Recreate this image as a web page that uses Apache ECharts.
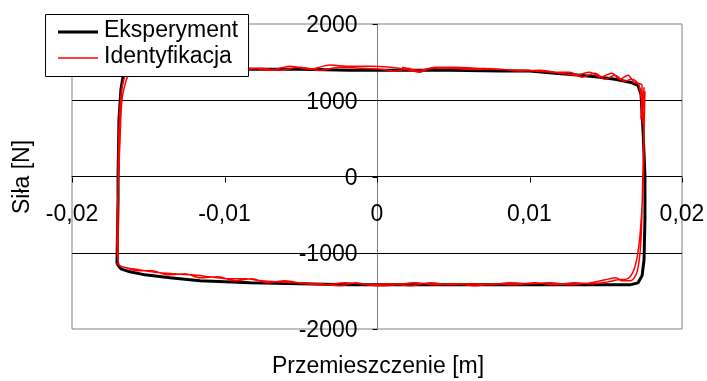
<!DOCTYPE html>
<html>
<head>
<meta charset="utf-8">
<script src="https://cdn.jsdelivr.net/npm/echarts@6/dist/echarts.min.js"></script>
<style>
html,body{margin:0;padding:0;background:#fff;}
#c{width:707px;height:381px;}
</style>
</head>
<body>
<div id="c"></div>
<script>
// Tick values and labels
var xTicks = [-0.02, -0.01, 0, 0.01, 0.02];
var xTickLabels = ['-0,02', '-0,01', '0', '0,01', '0,02'];
var yTicks = [-2000, -1000, 0, 1000, 2000];
var yTickLabels = ['-2000', '-1000', '0', '1000', '2000'];
var seriesNames = ['Eksperyment', 'Identyfikacja'];
var xTitle = 'Przemieszczenie [m]';
var yTitle = 'Siła [N]';

// Eksperyment (black) - displacement [m] and force [N]
var expX = [-0.01705,-0.01698,-0.01698,-0.01692,-0.01679,-0.01666,-0.0164,-0.01587,-0.01423,-0.01161,-0.00833,-0.00505,-0.00177,0.00151,0.00479,0.00807,0.01003,0.01167,0.01331,0.01462,0.01561,0.01659,0.01711,0.01731,0.01744,0.01757,0.01757,0.01751,0.01738,0.01711,0.01659,0.01462,0.01134,0.00807,0.00479,0.00151,-0.00177,-0.00505,-0.00833,-0.01161,-0.01357,-0.01521,-0.0162,-0.01679,-0.01705];
var expY = [-1145,-303,0,750,1145,1303,1382,1408,1408,1408,1408,1408,1395,1395,1395,1382,1382,1355,1329,1303,1276,1237,1197,1079,618,26,-566,-1092,-1303,-1395,-1421,-1421,-1421,-1421,-1421,-1421,-1421,-1408,-1395,-1368,-1329,-1290,-1250,-1211,-1145];

// Identyfikacja (red) - two cycles
var idX = [0.00164,0.00282,0.0038,0.00511,0.00643,0.00807,0.00938,0.01069,0.0120,0.01298,0.01397,0.01462,0.0154,0.01593,0.01646,0.01685,0.01711,
0.01738,0.01731,0.01751,0.01744,0.01757,0.01751,0.01744,0.01738,0.01731,0.01718,0.01698,0.01659,0.01607,0.01567,0.01495,0.01397,0.01266,0.01134,0.01003,0.00872,0.00741,0.0061,0.00479,0.00348,0.00216,0.00085,-0.00046,-0.00144,-0.00243,-0.00374,-0.00505,-0.00636,-0.00754,-0.00866,-0.00977,-0.01095,-0.01213,-0.01325,-0.01423,-0.01521,-0.01607,-0.01672,-0.01698,
-0.01698,-0.01698,-0.01692,-0.01679,-0.0166,-0.01633,-0.01593,-0.01489,-0.01357,-0.01226,-0.01095,-0.00964,-0.00833,-0.00702,-0.0057,-0.00439,-0.00308,-0.00177,-0.00046,0.00085,0.00184,
0.00282,0.00361,0.00479,0.0061,0.00774,0.00905,0.01036,0.01167,0.01266,0.01344,0.01429,0.01495,0.01561,0.0162,0.01672,0.01718,0.01744,0.01731,0.01751,0.01744,0.01725,0.01705,0.01679,0.0164,0.0158,0.01515,0.01397,0.01298,0.01167,0.01036,0.00905,0.00774,0.00643,0.00511,0.0038,0.00249,0.00118,0.00007,-0.00111,-0.0021,-0.00341,-0.00472,-0.00603,-0.00715,-0.0082,-0.00931,-0.01043,-0.0116,-0.01259,-0.0137,-0.01475,-0.01567,-0.01646,-0.01692,
-0.01705,-0.01698,-0.01685,-0.01672,-0.01646,-0.0162,-0.01567,-0.01423,-0.01292,-0.01161,-0.0103,-0.00898,-0.00767,-0.00636,-0.00505,-0.00374,-0.00243,-0.00111,0.0002,0.00118,0.00216];
var idY = [1434,1395,1434,1434,1421,1408,1382,1395,1355,1329,1368,1303,1355,1276,1329,1237,1224,
1197,750,1171,882,1118,618,92,-434,-829,-1119,-1290,-1368,-1368,-1329,-1355,-1395,-1421,-1395,-1408,-1395,-1421,-1408,-1421,-1395,-1434,-1408,-1421,-1395,-1434,-1408,-1395,-1382,-1368,-1342,-1342,-1316,-1290,-1276,-1263,-1237,-1211,-1184,-1145,
-697,0,618,1079,1276,1382,1421,1421,1434,1408,1421,1408,1421,1395,1447,1408,1461,1447,1447,1434,1408,
1368,1421,1421,1408,1408,1395,1382,1368,1368,1303,1355,1276,1329,1250,1276,1197,684,1145,487,-171,-763,-1066,-1250,-1342,-1355,-1382,-1408,-1395,-1421,-1395,-1421,-1408,-1434,-1408,-1421,-1395,-1421,-1434,-1408,-1395,-1421,-1408,-1368,-1395,-1342,-1368,-1316,-1329,-1276,-1290,-1237,-1237,-1197,-1158,
-829,-171,487,1013,1250,1368,1408,1408,1421,1395,1421,1395,1421,1395,1434,1395,1434,1421,1408,1382,1421];

function zip(a, b) { var r = []; for (var i = 0; i < a.length; i++) r.push([a[i], b[i]]); return r; }

var FONT = '"Liberation Sans", Arial, sans-serif';
var FS = 23;
var chart = echarts.init(document.getElementById('c'), null, {renderer: 'canvas'});
chart.setOption({
  animation: false,
  backgroundColor: '#fff',
  grid: {left: 72, right: 25, top: 24, bottom: 52, show: true, borderColor: '#808080', borderWidth: 1},
  xAxis: {
    type: 'value', min: -0.02, max: 0.02, interval: 0.01,
    axisLine: {onZero: true, lineStyle: {color: '#000', width: 1}},
    axisTick: {show: false},
    axisLabel: {show: false},
    splitLine: {show: false}
  },
  yAxis: {
    type: 'value', min: -2000, max: 2000, interval: 1000,
    axisLine: {show: true, onZero: true, lineStyle: {color: '#808080', width: 1}},
    axisTick: {show: false},
    axisLabel: {show: false},
    splitLine: {show: true, showMinLine: false, showMaxLine: false, lineStyle: {color: '#000', width: 1}}
  },
  series: [
    {name: seriesNames[0], type: 'line', data: zip(expX, expY), symbol: 'none', showSymbol: false,
     lineStyle: {color: '#000', width: 3}, itemStyle: {color: '#000'}, z: 2},
    {name: seriesNames[1], type: 'line', data: zip(idX, idY), symbol: 'none', showSymbol: false, smooth: 0.3,
     lineStyle: {color: '#ff0000', width: 1.5}, itemStyle: {color: '#ff0000'}, z: 3}
  ]
});

// Axis ticks, tick labels, titles and legend placed via the chart's own scales
var g = [];
var origin = chart.convertToPixel({gridIndex: 0}, [0, 0]);
var ox = Math.round(origin[0]) + 0.5, oy = Math.round(origin[1]) + 0.5;
xTicks.forEach(function (v, i) {
  var p = chart.convertToPixel({gridIndex: 0}, [v, 0]);
  var px = Math.round(p[0]) + 0.5;
  g.push({type: 'line', z: 10, shape: {x1: px, y1: oy, x2: px, y2: oy + 5}, style: {stroke: '#000', lineWidth: 1}});
  g.push({type: 'text', z: 10, x: p[0], y: oy + 37,
    style: {text: xTickLabels[i], font: FS + 'px ' + FONT, fill: '#000', align: 'center', verticalAlign: 'middle'}});
});
yTicks.forEach(function (v, i) {
  var p = chart.convertToPixel({gridIndex: 0}, [0, v]);
  var py = Math.round(p[1]) + 0.5;
  g.push({type: 'line', z: 10, shape: {x1: ox, y1: py, x2: ox - 5, y2: py}, style: {stroke: '#000', lineWidth: 1}});
  g.push({type: 'text', z: 10, x: ox - 20, y: p[1] + 2,
    style: {text: yTickLabels[i], font: FS + 'px ' + FONT, fill: '#000', align: 'right', verticalAlign: 'middle'}});
});
g.push({type: 'text', z: 10, x: 378, y: 367,
  style: {text: xTitle, font: FS + 'px ' + FONT, fill: '#000', align: 'center', verticalAlign: 'middle'}});
g.push({type: 'text', z: 10, x: 23, y: 177, rotation: Math.PI / 2,
  style: {text: yTitle, font: FS + 'px ' + FONT, fill: '#000', align: 'center', verticalAlign: 'middle'}});
// legend
g.push({type: 'rect', z: 100, shape: {x: 45.5, y: 14.5, width: 203, height: 62}, style: {fill: '#fff', stroke: '#000', lineWidth: 1}});
g.push({type: 'line', z: 101, shape: {x1: 58, y1: 32, x2: 98, y2: 32}, style: {stroke: '#000', lineWidth: 3}});
g.push({type: 'line', z: 101, shape: {x1: 58, y1: 58, x2: 98, y2: 58}, style: {stroke: '#ff0000', lineWidth: 1.5}});
g.push({type: 'text', z: 101, x: 104, y: 31,
  style: {text: seriesNames[0], font: FS + 'px ' + FONT, fill: '#000', align: 'left', verticalAlign: 'middle'}});
g.push({type: 'text', z: 101, x: 104, y: 57,
  style: {text: seriesNames[1], font: FS + 'px ' + FONT, fill: '#000', align: 'left', verticalAlign: 'middle'}});
chart.setOption({graphic: g});
</script>
</body>
</html>
